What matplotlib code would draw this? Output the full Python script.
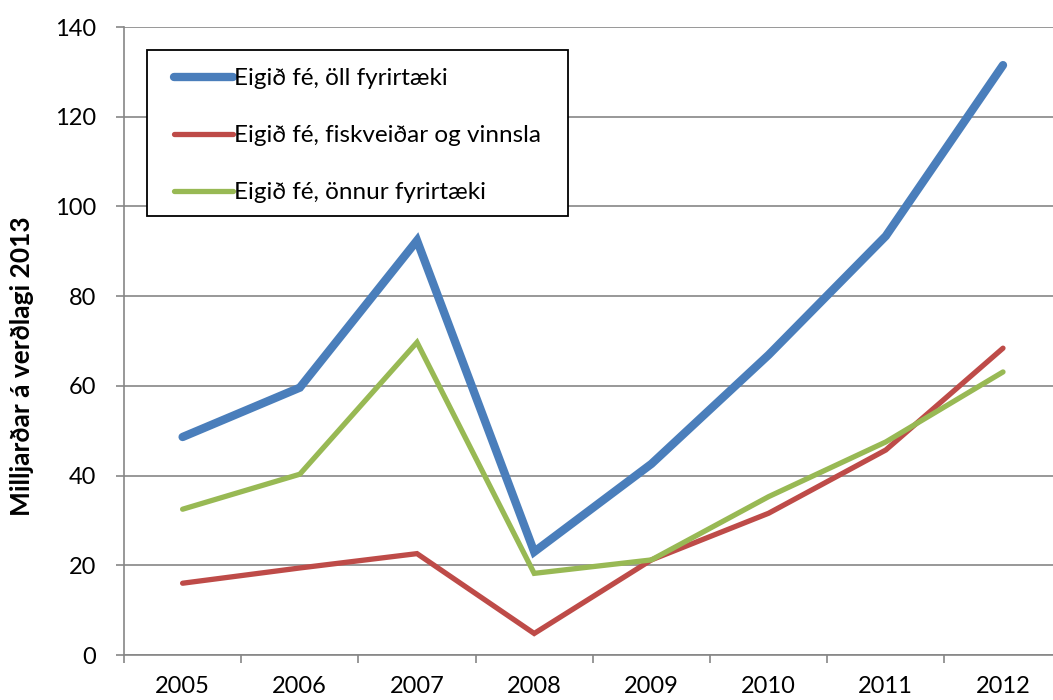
import numpy as np
import matplotlib
matplotlib.use("Agg")
import matplotlib.pyplot as plt
from matplotlib.patches import Rectangle

plt.rcParams['font.family'] = ['Lato', 'DejaVu Sans']

# --- data ---
years = ['2005', '2006', '2007', '2008', '2009', '2010', '2011', '2012']
oll = [48.6, 59.6, 92.4, 23.0, 42.6, 66.9, 93.4, 131.5]
fiskur = [16.0, 19.4, 22.6, 4.8, 21.2, 31.6, 45.7, 68.4]
onnur = [32.5, 40.3, 69.7, 18.2, 21.2, 35.3, 47.5, 63.1]

labels = ['Eigið fé, öll fyrirtæki',
          'Eigið fé, fiskveiðar og vinnsla',
          'Eigið fé, önnur fyrirtæki']
colors = ['#4A7EBB', '#BE4B48', '#98B954']
widths = [6.0, 3.8, 3.8]

W, H = 1053, 700
fig = plt.figure(figsize=(W / 100, H / 100), dpi=100)
# axes runs off the right edge, like the original crop
ax = fig.add_axes([124 / W, 1 - 655 / H, 8 * 117.2 / W, 628 / H])

x = np.arange(len(years))
for vals, lab, c, lw in zip([oll, fiskur, onnur], labels, colors, widths):
    ax.plot(x, vals, color=c, lw=lw, label=lab, solid_capstyle='round',
            solid_joinstyle='miter')

ax.set_xlim(-0.5, len(years) - 0.5)
ax.set_ylim(0, 140)
ax.set_yticks(np.arange(0, 141, 20))
ax.set_xticks(x)
ax.set_xticklabels(years)
ax.set_xticks(np.arange(-0.5, len(years), 1), minor=True)

grey = '#868686'
ax.grid(axis='y', color=grey, lw=1.2)
ax.set_axisbelow(True)
for s in ['top', 'right']:
    ax.spines[s].set_visible(False)
for s in ['left', 'bottom']:
    ax.spines[s].set_color(grey)
    ax.spines[s].set_linewidth(1.2)

ax.tick_params(axis='y', direction='out', length=6, width=1.2, color=grey,
               labelsize=17, pad=14)
ax.tick_params(axis='x', which='major', length=0, labelsize=17, pad=15)
ax.tick_params(axis='x', which='minor', direction='out', length=6, width=1.2,
               color=grey)

fig.text(22 / W, 1 - 366 / H, 'Milljarðar á verðlagi 2013', rotation=90,
         ha='center', va='center', fontsize=19, fontweight='bold')

# legend box drawn by hand (wider right padding than mpl gives)
box = Rectangle((147 / W, 1 - 216 / H), (568 - 147) / W, (216 - 50) / H,
                transform=fig.transFigure, facecolor='white',
                edgecolor='black', lw=1.3, zorder=3, clip_on=False)
ax.add_patch(box)

leg = ax.legend(loc='upper left', bbox_to_anchor=(167 / W, 1 - 61 / H),
                bbox_transform=fig.transFigure, fontsize=17.5, frameon=False,
                handlelength=2.4, handletextpad=0.05, labelspacing=1.48,
                borderpad=0.3, borderaxespad=0)
leg.set_zorder(4)

fig.savefig('out.png', dpi=100)
